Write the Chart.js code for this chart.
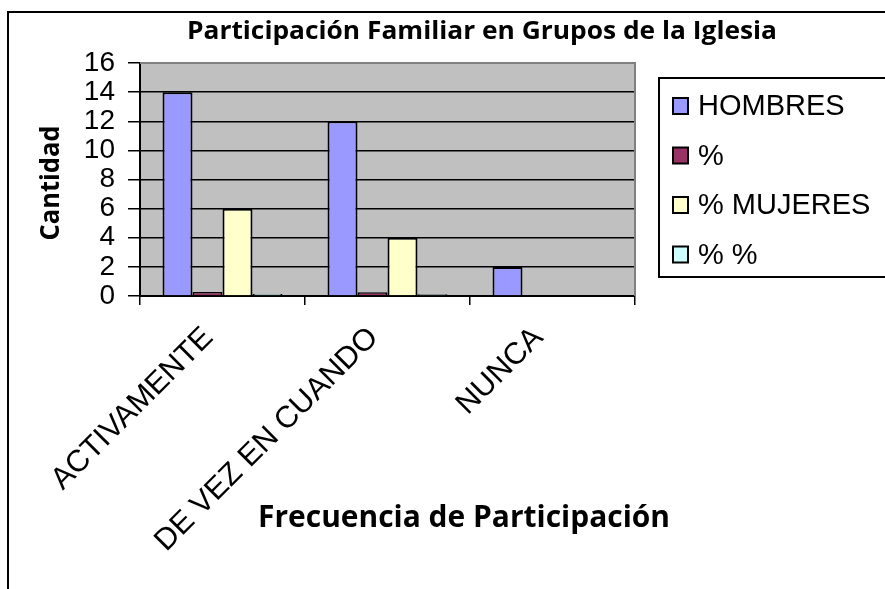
<!DOCTYPE html>
<html>
<head>
<meta charset="utf-8">
<script src="https://cdn.jsdelivr.net/npm/chart.js@4"></script>
<style>
html,body{margin:0;padding:0;background:#fff;}
canvas{display:block;}
</style>
</head>
<body>
<canvas id="c" width="885" height="589"></canvas>
<script>
const chartTitle = 'Participación Familiar en Grupos de la Iglesia';
const xAxisTitle = 'Frecuencia de Participación';
const yAxisTitle = 'Cantidad';
const categories = ['ACTIVAMENTE', 'DE VEZ EN CUANDO', 'NUNCA'];
const seriesNames = ['HOMBRES', '%', '% MUJERES', '% %'];
const hombres = [14, 12, 2];
const pct = [0.28, 0.26, 0];
const mujeres = [6, 4, 0];
const pctPct = [0.14, 0.12, 0];
const yMin = 0, yMax = 16, yStep = 2;
const seriesColors = ['#9999FF', '#993366', '#FFFFCC', '#CCFFFF'];

const seriesData = [hombres, pct, mujeres, pctPct];

function drawFitted(ctx, text, x, y, font, targetWidth, align) {
  ctx.save();
  ctx.font = font;
  const w = ctx.measureText(text).width;
  const s = targetWidth / w;
  ctx.translate(x, y);
  ctx.scale(s, 1);
  ctx.textAlign = align || 'center';
  ctx.textBaseline = 'alphabetic';
  ctx.fillStyle = '#000';
  ctx.fillText(text, 0, 0);
  ctx.restore();
}

const decor = {
  id: 'decor',
  beforeDraw(chart) {
    const ctx = chart.ctx;
    const a = chart.chartArea;
    ctx.save();
    ctx.fillStyle = '#fff';
    ctx.fillRect(0, 0, chart.width, chart.height);
    ctx.fillStyle = '#C0C0C0';
    ctx.fillRect(a.left, a.top, a.right - a.left, a.bottom - a.top);
    ctx.restore();
  },
  afterDraw(chart) {
    const ctx = chart.ctx;
    const a = chart.chartArea;
    ctx.save();
    // plot border
    ctx.strokeStyle = '#808080';
    ctx.lineWidth = 2;
    ctx.beginPath();
    ctx.moveTo(a.left, a.top);
    ctx.lineTo(a.right, a.top);
    ctx.lineTo(a.right, a.bottom);
    ctx.stroke();
    // outer chart border
    ctx.strokeStyle = '#000';
    ctx.lineWidth = 2;
    ctx.beginPath();
    ctx.moveTo(8, chart.height + 2);
    ctx.lineTo(8, 12);
    ctx.lineTo(chart.width + 2, 12);
    ctx.stroke();
    // title
    drawFitted(ctx, chartTitle, 482, 39, 'bold 25px "Open Sans"', 590, 'center');
    // x axis title
    drawFitted(ctx, xAxisTitle, 464, 527, 'bold 30px "Open Sans"', 412, 'center');
    // y axis title
    ctx.save();
    ctx.translate(59, 183);
    ctx.rotate(-Math.PI / 2);
    drawFitted(ctx, yAxisTitle, 0, 0, 'bold 27px "Open Sans"', 115, 'center');
    ctx.restore();
    // legend
    ctx.strokeStyle = '#000';
    ctx.lineWidth = 2;
    ctx.strokeRect(659, 78, 240, 199);
    ctx.font = '29px "Liberation Sans", Arial, sans-serif';
    ctx.textAlign = 'left';
    ctx.textBaseline = 'middle';
    chart.data.datasets.forEach((ds, i) => {
      const cy = 106 + i * 49.5;
      ctx.fillStyle = ds.backgroundColor;
      ctx.fillRect(673, cy - 8, 15, 16);
      ctx.lineWidth = 2;
      ctx.strokeStyle = '#000';
      ctx.strokeRect(673, cy - 8, 15, 16);
      ctx.fillStyle = '#000';
      ctx.fillText(ds.label, 698, cy + 1);
    });
    ctx.restore();
  }
};

new Chart(document.getElementById('c'), {
  type: 'bar',
  data: {
    labels: categories,
    datasets: seriesNames.map((name, i) => ({
      label: name,
      data: seriesData[i],
      backgroundColor: seriesColors[i],
      borderColor: '#000',
      borderWidth: 2,
      borderSkipped: 'start',
      categoryPercentage: 0.727,
      barPercentage: 1.0
    }))
  },
  options: {
    responsive: false,
    devicePixelRatio: 1,
    animation: false,
    layout: { padding: { left: 0, top: 63, right: 250, bottom: 0 } },
    plugins: {
      legend: { display: false },
      title: { display: false },
      tooltip: { enabled: false }
    },
    scales: {
      x: {
        grid: { display: true, offset: true, drawOnChartArea: false, color: '#000', lineWidth: 1.5, tickLength: 9 },
        border: { display: true, color: '#000', width: 2 },
        ticks: {
          autoSkip: false,
          minRotation: 45,
          maxRotation: 45,
          padding: 15,
          labelOffset: -14,
          color: '#000',
          font: { family: '"Liberation Sans", Arial, sans-serif', size: 30.5 }
        },
        afterFit(scale) { scale.height = 589 - 296; }
      },
      y: {
        min: yMin,
        max: yMax,
        grid: { color: '#000', lineWidth: 1.5, tickLength: 12 },
        border: { display: true, color: '#000', width: 2 },
        ticks: {
          stepSize: yStep,
          autoSkip: false,
          padding: 13,
          color: '#000',
          font: { family: '"Liberation Sans", Arial, sans-serif', size: 28 }
        },
        afterFit(scale) { scale.width = 140; }
      }
    }
  },
  plugins: [decor]
});
</script>
</body>
</html>
